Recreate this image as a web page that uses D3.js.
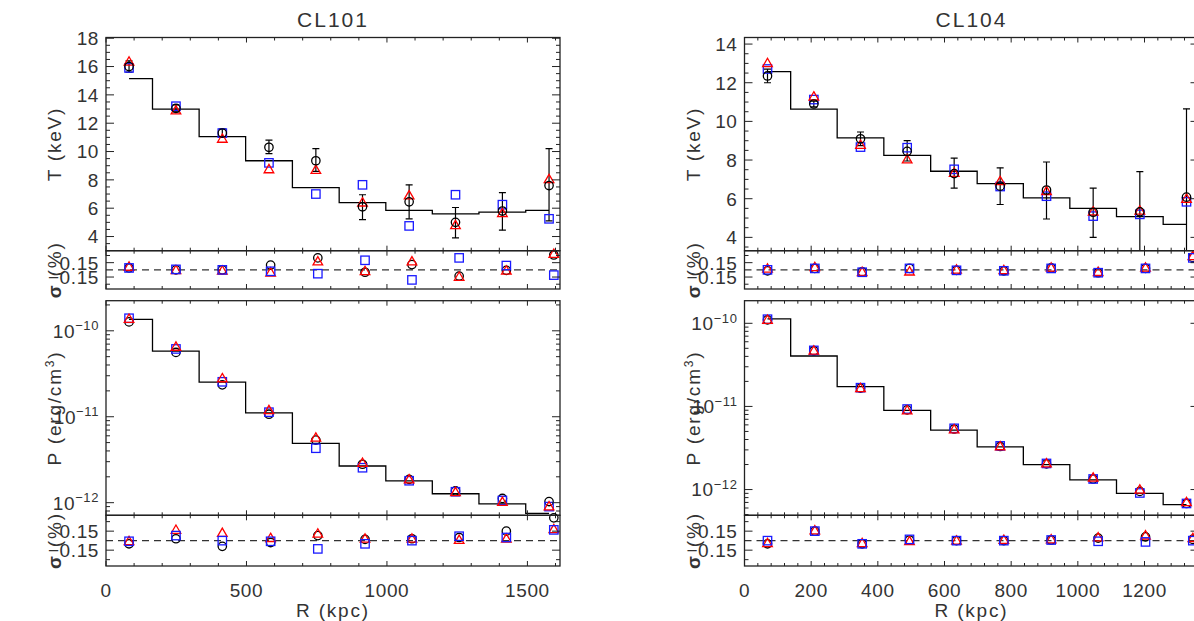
<!DOCTYPE html>
<html><head><meta charset="utf-8">
<script src="https://cdn.jsdelivr.net/npm/d3@7"></script>
<style>
body{margin:0;background:#fff}
svg{display:block}
text{font-family:"Liberation Sans",Arial,sans-serif;fill:#333}
</style>
</head><body>
<svg id="c" width="1194" height="621"></svg>
<script>
// ---------------- DATA ----------------
// CL101
const r101   = [82,249,414,580,747,913,1079,1244,1411,1577];
const r101s  = [82,249,414,586,754,922,1089,1257,1425,1594];
const T101_model = [15.15,13.0,11.05,9.35,7.45,6.4,5.85,5.6,5.72,5.85];
const T101_obs   = [16.0,13.05,11.3,10.3,9.35,6.1,6.45,5.0,5.8,7.6];
const T101_lo    = [15.6,12.8,11.0,9.85,8.6,5.2,5.25,3.9,4.45,5.1];
const T101_hi    = [16.4,13.3,11.6,10.8,10.2,6.95,7.65,6.05,7.1,10.2];
const T101_red   = [16.3,12.85,10.85,8.7,8.65,6.35,6.85,4.75,5.6,8.0];
const T101_blue  = [15.9,13.2,11.3,9.2,7.0,7.65,4.75,6.95,6.25,5.25];
const S1_101_black = [0.04,0.0,0.0,0.1,0.25,-0.05,0.11,-0.13,-0.01,0.31];
const S1_101_red   = [0.05,-0.02,-0.03,-0.07,0.16,-0.04,0.16,-0.16,-0.03,0.32];
const S1_101_blue  = [0.04,0.01,0.0,-0.03,-0.08,0.2,-0.21,0.25,0.09,-0.11];
const P101_model = [1.36e-10,5.8e-11,2.53e-11,1.11e-11,4.9e-12,2.67e-12,1.79e-12,1.27e-12,9.66e-13,7.5e-13];
const P101_black = [1.27e-10,5.6e-11,2.35e-11,1.07e-11,5.35e-12,2.8e-12,1.87e-12,1.37e-12,1.12e-12,1.03e-12];
const P101_red   = [1.35e-10,6.4e-11,2.75e-11,1.17e-11,5.6e-12,2.85e-12,1.83e-12,1.3e-12,1.0e-12,8.9e-13];
const P101_blue  = [1.4e-10,6.15e-11,2.55e-11,1.13e-11,4.3e-12,2.55e-12,1.8e-12,1.34e-12,1.06e-12,9.0e-13];
const S2_101_black = [-0.05,0.03,-0.09,-0.03,0.08,0.02,0.03,0.05,0.15,0.36];
const S2_101_red   = [-0.02,0.16,0.11,0.03,0.1,0.02,0.02,0.0,0.02,0.17];
const S2_101_blue  = [-0.01,0.08,0.0,-0.01,-0.13,-0.05,0.0,0.07,0.05,0.17];

// CL104
const r104   = [69,208,348,488,629,767,906,1046,1186,1326];
const r104s  = [69,211,353,495,636,778,920,1061,1203,1345];
const T104_model = [12.57,10.63,9.15,8.24,7.42,6.78,6.04,5.5,5.07,4.67];
const T104_obs   = [12.35,10.9,9.1,8.45,7.3,6.65,6.45,5.3,5.32,6.08];
const T104_lo    = [12.0,10.75,8.75,7.95,6.55,5.7,4.95,4.0,3.0,1.5];
const T104_hi    = [12.7,11.05,9.45,9.0,8.1,7.6,7.9,6.55,7.4,10.65];
const T104_red   = [12.98,11.25,8.75,8.0,7.3,6.87,6.35,5.3,5.35,5.96];
const T104_blue  = [12.71,11.13,8.67,8.64,7.52,6.63,6.13,5.1,5.19,5.84];
const S1_104_black = [-0.02,0.03,-0.04,0.03,-0.01,-0.02,0.04,-0.06,0.03,0.26];
const S1_104_red   = [0.01,0.04,-0.06,-0.05,-0.01,-0.02,0.03,-0.06,0.03,0.27];
const S1_104_blue  = [0.0,0.03,-0.05,0.03,-0.01,-0.02,0.03,-0.06,0.03,0.25];
const P104_model = [1.13e-10,4.04e-11,1.73e-11,8.95e-12,5.2e-12,3.27e-12,1.99e-12,1.31e-12,8.97e-13,6.6e-13];
const P104_black = [1.1e-10,4.68e-11,1.66e-11,9.1e-12,5.35e-12,3.3e-12,2.04e-12,1.34e-12,9.5e-13,6.8e-13];
const P104_red   = [1.08e-10,4.6e-11,1.63e-11,8.8e-12,5.2e-12,3.25e-12,2.02e-12,1.36e-12,9.8e-13,6.9e-13];
const P104_blue  = [1.12e-10,4.72e-11,1.68e-11,9.3e-12,5.45e-12,3.35e-12,2.06e-12,1.34e-12,9.1e-13,6.8e-13];
const S2_104_black = [-0.05,0.15,-0.05,0.01,0.0,0.0,0.01,0.04,0.06,0.02];
const S2_104_red   = [-0.05,0.15,-0.05,-0.02,-0.01,0.0,0.01,0.04,0.07,0.03];
const S2_104_blue  = [0.0,0.15,-0.05,0.02,0.0,0.0,0.01,-0.01,-0.02,0.0];

// tick labels / axis settings
const titles = ["CL101","CL104"];
const xMajor101 = [0,500,1000,1500];
const xMajor104 = [0,200,400,600,800,1000,1200];
const tMajor101 = [4,6,8,10,12,14,16,18];
const tMajor104 = [4,6,8,10,12,14];
const sigTicks = [0.15,-0.15];
const sigLabels = ["0.15","\u22120.15"];
const pDecades = [-12,-11,-10];

// ---------------- LAYOUT ----------------
const svg = d3.select("#c");
const rows = {T:[37.5,250.7], S1:[250.7,289], P:[300.7,515.3], S2:[515.3,566]};
const INK = "#222";
const LS = 0.6;
const YLAB_OFF = 45;

const clusters = [
  {title:titles[0], x0:106, x1:560, xmax:1616, xMajor:xMajor101, xMinorStep:100,
   r:r101, rs:r101s, tDom:[3,18.05], tMajor:tMajor101,
   T:{model:T101_model, obs:T101_obs, lo:T101_lo, hi:T101_hi, red:T101_red, blue:T101_blue},
   S1:{black:S1_101_black, red:S1_101_red, blue:S1_101_blue},
   pDom:[7.13e-13,2.24e-10],
   P:{model:P101_model, black:P101_black, red:P101_red, blue:P101_blue},
   S2:{black:S2_101_black, red:S2_101_red, blue:S2_101_blue}},
  {title:titles[1], x0:744.5, x1:1198.5, xmax:1362, xMajor:xMajor104, xMinorStep:40,
   r:r104, rs:r104s, tDom:[3.31,14.34], tMajor:tMajor104,
   T:{model:T104_model, obs:T104_obs, lo:T104_lo, hi:T104_hi, red:T104_red, blue:T104_blue},
   S1:{black:S1_104_black, red:S1_104_red, blue:S1_104_blue},
   pDom:[4.9e-13,1.87e-10],
   P:{model:P104_model, black:P104_black, red:P104_red, blue:P104_blue},
   S2:{black:S2_104_black, red:S2_104_red, blue:S2_104_blue}}
];

let clipId = 0;
function makeClip(x0,x1,y0,y1){
  const id = "clip"+(clipId++);
  svg.append("clipPath").attr("id",id).append("rect")
    .attr("x",x0).attr("y",y0).attr("width",x1-x0).attr("height",y1-y0);
  return "url(#"+id+")";
}

function frame(x0,x1,y0,y1){
  svg.append("rect").attr("x",x0).attr("y",y0).attr("width",x1-x0).attr("height",y1-y0)
    .attr("fill","none").attr("stroke",INK).attr("stroke-width",1.3);
}

function xTicks(g, x, y0, y1, c){
  const minors = d3.range(0, c.xmax+0.001, c.xMinorStep);
  minors.forEach(v=>{
    const big = c.xMajor.includes(v);
    const L = big?5:3;
    const px = x(v);
    g.append("line").attr("x1",px).attr("x2",px).attr("y1",y1).attr("y2",y1-L).attr("stroke",INK).attr("stroke-width",1);
    g.append("line").attr("x1",px).attr("x2",px).attr("y1",y0).attr("y2",y0+L).attr("stroke",INK).attr("stroke-width",1);
  });
}

function yTick(g, c, py, len){
  g.append("line").attr("x1",c.x0).attr("x2",c.x0+len).attr("y1",py).attr("y2",py).attr("stroke",INK).attr("stroke-width",1);
  g.append("line").attr("x1",c.x1).attr("x2",c.x1-len).attr("y1",py).attr("y2",py).attr("stroke",INK).attr("stroke-width",1);
}

function circles(g, x, y, xs, vals){
  g.selectAll(null).data(vals).enter().append("circle")
    .attr("cx",(d,i)=>x(xs[i])).attr("cy",d=>y(d)).attr("r",4.2)
    .attr("fill","none").attr("stroke","#000").attr("stroke-width",1.3);
}
function triangles(g, x, y, xs, vals){
  const tri = d3.symbol().type(d3.symbolTriangle).size(40);
  g.selectAll(null).data(vals).enter().append("path")
    .attr("d",tri).attr("transform",(d,i)=>`translate(${x(xs[i])},${y(d)})`)
    .attr("fill","none").attr("stroke","#ff0000").attr("stroke-width",1.3);
}
function squares(g, x, y, xs, vals){
  g.selectAll(null).data(vals).enter().append("rect")
    .attr("x",(d,i)=>x(xs[i])-4.2).attr("y",d=>y(d)-4.2).attr("width",8.4).attr("height",8.4)
    .attr("fill","none").attr("stroke","#1a1aff").attr("stroke-width",1.3);
}

function stepLine(g, x, y, r, vals){
  const pts = [];
  const edges = [r[0]];
  for(let i=1;i<r.length;i++) edges.push((r[i-1]+r[i])/2);
  edges.push(r[r.length-1]);
  vals.forEach((v,i)=>{ pts.push([edges[i],v]); pts.push([edges[i+1],v]); });
  g.append("path").attr("d", d3.line().x(d=>x(d[0])).y(d=>y(d[1]))(pts))
    .attr("fill","none").attr("stroke","#000").attr("stroke-width",1.3);
}

function yLabel(x, ycen, parts){
  const t = svg.append("text").attr("transform",`translate(${x},${ycen}) rotate(-90)`)
    .attr("text-anchor","middle").attr("font-size",19).attr("letter-spacing",1.8);
  parts.forEach(p=>{
    const s = t.append("tspan").text(p.t);
    if(p.bold) s.attr("font-weight","bold");
    if(p.sup) s.attr("baseline-shift","super").attr("font-size",12);
  });
}

function sigmaPanel(c, x, rowKey, data){
  const [y0,y1] = rows[rowKey];
  const y = d3.scaleLinear().domain([-0.4,0.4]).range([y1,y0]);
  const g = svg.append("g");
  g.append("line").attr("x1",c.x0).attr("x2",c.x1).attr("y1",y(0)).attr("y2",y(0))
    .attr("stroke","#333").attr("stroke-width",1.1).attr("stroke-dasharray","7,5");
  const pg = svg.append("g").attr("clip-path",makeClip(c.x0-6,c.x1+6,y0-6,y1+6));
  circles(pg,x,y,c.rs,data.black);
  triangles(pg,x,y,c.rs,data.red);
  squares(pg,x,y,c.rs,data.blue);
  const tg = svg.append("g");
  [0.3,-0.3].forEach(v=>yTick(tg,c,y(v),4));
  sigTicks.forEach((v,i)=>{
    yTick(tg,c,y(v),8);
    svg.append("text").attr("x",c.x0-7).attr("y",y(v)).attr("dy","0.36em")
      .attr("text-anchor","end").attr("font-size",19).attr("letter-spacing",LS).text(sigLabels[i]);
  });
  xTicks(tg,x,y0,y1,c);
  frame(c.x0,c.x1,y0,y1);
  yLabel(c.x0-YLAB_OFF,(y0+y1)/2,[{t:"\u03c3",bold:true},{t:" (%)"}]);
}

clusters.forEach(c=>{
  const x = d3.scaleLinear().domain([0,c.xmax]).range([c.x0,c.x1]);

  svg.append("text").attr("x",(c.x0+c.x1)/2).attr("y",27).attr("text-anchor","middle")
    .attr("font-size",21).attr("letter-spacing",2).text(c.title);

  // ---- T panel ----
  {
    const [y0,y1] = rows.T;
    const y = d3.scaleLinear().domain(c.tDom).range([y1,y0]);
    const g = svg.append("g").attr("clip-path",makeClip(c.x0,c.x1,y0,y1));
    stepLine(g,x,y,c.r,c.T.model);
    c.T.obs.forEach((v,i)=>{
      const px = x(c.r[i]);
      g.append("line").attr("x1",px).attr("x2",px).attr("y1",y(c.T.lo[i])).attr("y2",y(c.T.hi[i]))
        .attr("stroke","#000").attr("stroke-width",1.2);
      [c.T.lo[i],c.T.hi[i]].forEach(e=>{
        g.append("line").attr("x1",px-3.5).attr("x2",px+3.5).attr("y1",y(e)).attr("y2",y(e))
          .attr("stroke","#000").attr("stroke-width",1.2);
      });
    });
    const pg = svg.append("g").attr("clip-path",makeClip(c.x0-6,c.x1+6,y0,y1));
    squares(pg,x,y,c.r,c.T.blue);
    triangles(pg,x,y,c.r,c.T.red);
    circles(pg,x,y,c.r,c.T.obs);
    const tg = svg.append("g");
    d3.range(Math.ceil(c.tDom[0]*2)/2, c.tDom[1]+0.001, 0.5).forEach(v=>{
      const major = c.tMajor.includes(v);
      yTick(tg,c,y(v),major?8:4);
    });
    c.tMajor.forEach(v=>{
      svg.append("text").attr("x",c.x0-7).attr("y",y(v)).attr("dy","0.36em")
        .attr("text-anchor","end").attr("font-size",19).attr("letter-spacing",LS).text(v);
    });
    xTicks(tg,x,y0,y1,c);
    frame(c.x0,c.x1,y0,y1);
    yLabel(c.x0-YLAB_OFF,(y0+y1)/2,[{t:"T (keV)"}]);
  }

  sigmaPanel(c,x,"S1",c.S1);

  // ---- P panel ----
  {
    const [y0,y1] = rows.P;
    const y = d3.scaleLog().domain(c.pDom).range([y1,y0]);
    const g = svg.append("g").attr("clip-path",makeClip(c.x0,c.x1,y0,y1));
    stepLine(g,x,y,c.r,c.P.model);
    const pg = svg.append("g").attr("clip-path",makeClip(c.x0-6,c.x1+6,y0,y1));
    circles(pg,x,y,c.r,c.P.black);
    squares(pg,x,y,c.r,c.P.blue);
    triangles(pg,x,y,c.r,c.P.red);
    const tg = svg.append("g");
    [-13,-12,-11,-10].forEach(dec=>{
      for(let m=1;m<10;m++){
        const v = m*Math.pow(10,dec);
        if(v<c.pDom[0]||v>c.pDom[1]) continue;
        yTick(tg,c,y(v),m===1?8:4);
      }
    });
    pDecades.forEach(dec=>{
      const v = Math.pow(10,dec);
      const t = svg.append("text").attr("x",c.x0-7).attr("y",y(v)).attr("dy","0.36em")
        .attr("text-anchor","end").attr("font-size",19).attr("letter-spacing",LS);
      t.append("tspan").text("10");
      t.append("tspan").attr("dy","-0.55em").attr("font-size",13).text("\u2212"+(-dec));
    });
    xTicks(tg,x,y0,y1,c);
    frame(c.x0,c.x1,y0,y1);
    yLabel(c.x0-YLAB_OFF,(y0+y1)/2,[{t:"P (erg/cm"},{t:"3",sup:true},{t:")"}]);
  }

  sigmaPanel(c,x,"S2",c.S2);

  c.xMajor.forEach(v=>{
    svg.append("text").attr("x",x(v)).attr("y",597).attr("text-anchor","middle")
      .attr("font-size",19).attr("letter-spacing",LS).text(v);
  });
  svg.append("text").attr("x",(c.x0+c.x1)/2).attr("y",617).attr("text-anchor","middle")
    .attr("font-size",19).attr("letter-spacing",1.8).text("R (kpc)");
});
</script>
</body></html>
